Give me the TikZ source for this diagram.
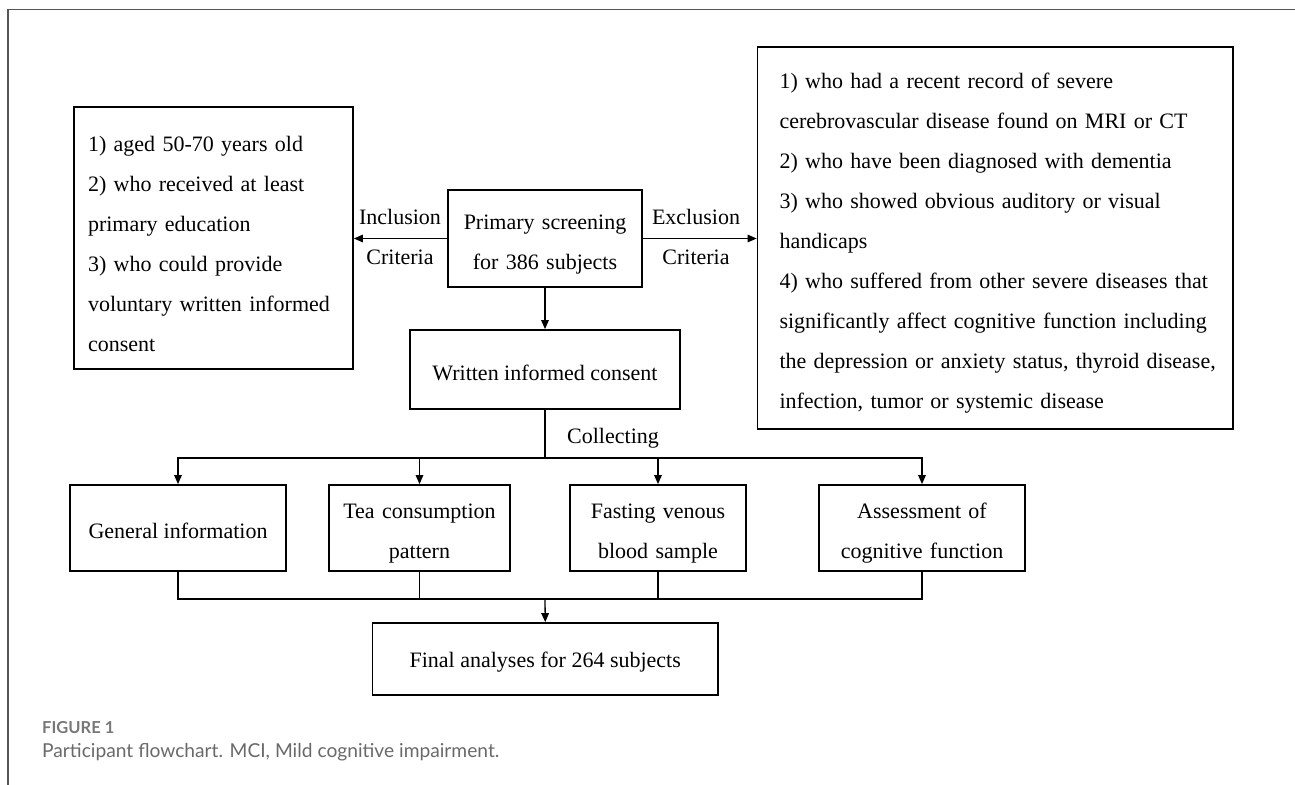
\documentclass[tikz,border=0pt]{standalone}
\usepackage{fontspec}
\setmainfont{Liberation Serif}
\newfontfamily\capfont{Lato}
\usetikzlibrary{arrows.meta}
\definecolor{framecol}{RGB}{85,85,85}
\definecolor{capgray}{RGB}{105,105,105}
\definecolor{figgray}{RGB}{120,120,120}
\newcommand{\mainsz}{\fontsize{22pt}{40pt}\selectfont}
\tikzset{
  box/.style={draw=black, line width=1.7pt, inner sep=0pt, font=\mainsz, align=center},
  lowmulti/.style={execute at begin node={\rule{0pt}{26.5pt}}},
  lowsingle/.style={execute at begin node={\rule{0pt}{21.5pt}}},
  lab/.style={inner sep=0pt, font=\mainsz, align=center},
  conn/.style={line width=1.3pt},
  arr/.style={conn, -{Triangle[length=9pt,width=7.5pt]}},
}
\begin{document}
\begin{tikzpicture}[x=1pt,y=-1pt]
\useasboundingbox (0,0) rectangle (1295,784);
\draw[framecol, line width=1.5pt] (1297,9.3) -- (8,9.3) -- (8,786);

\node[box, lowmulti, text width=251pt, inner xsep=14pt, minimum height=262pt, align=left] (incl) at (213.5,238)
 {1) aged 50-70 years old\\2) who received at least\\primary education\\3) who could provide\\voluntary written informed\\consent};

\node[box, lowmulti, text width=431.5pt, inner xsep=22pt, minimum height=382pt, align=left] (excl) at (995.25,238)
 {\mbox{1) who had a recent record of severe}\\
  \mbox{cerebrovascular disease found on MRI or CT}\\
  \mbox{2) who have been diagnosed with dementia}\\
  \mbox{3) who showed obvious auditory or visual}\\
  \mbox{handicaps}\\
  \mbox{4) who suffered from other severe diseases that}\\
  \mbox{significantly affect cognitive function including}\\
  \mbox{the depression or anxiety status, thyroid disease,}\\
  \mbox{infection, tumor or systemic disease}};

\node[box, lowmulti, text width=194pt, minimum height=97pt] (prim) at (545,238.5) {Primary screening\\for 386 subjects};
\node[box, lowsingle, minimum width=270pt, minimum height=79pt] (cons) at (545,369.5) {Written informed consent};

\node[box, lowsingle, minimum width=216pt, minimum height=86pt] (gen) at (178,528) {General information};
\node[box, lowmulti, text width=181pt, minimum height=86pt] (tea) at (419.5,528) {Tea consumption\\pattern};
\node[box, lowmulti, text width=176pt, minimum height=86pt] (fast) at (658,528) {Fasting venous\\blood sample};
\node[box, lowmulti, text width=206pt, minimum height=86pt] (assess) at (922,528) {Assessment of\\cognitive function};

\node[box, lowsingle, minimum width=345.5pt, minimum height=72pt] (final) at (545.25,659) {Final analyses for 264 subjects};

\node[lab] (inclab) at (400,237) {Inclusion\\Criteria};
\node[lab] (exclab) at (696,237) {Exclusion\\Criteria};
\node[lab, anchor=west] (collab) at (567,438) {Collecting};

\draw[arr] (prim.west) -- (prim.west -| incl.east);
\draw[arr] (prim.east) -- (prim.east -| excl.west);
\draw[arr] (prim.south) -- (cons.north);

\coordinate (split) at (545,458);
\draw[conn] (cons.south) -- (split);
\draw[arr] (split) -| (gen.north);
\draw[arr] (split) -| (tea.north);
\draw[arr] (split) -| (fast.north);
\draw[arr] (split) -| (assess.north);

\coordinate (merge) at (545,599);
\draw[conn] (gen.south) |- (merge);
\draw[conn] (tea.south) |- (merge);
\draw[conn] (fast.south) |- (merge);
\draw[conn] (assess.south) |- (merge);
\draw[arr] (merge) -- (final.north);

\node[anchor=base west, inner sep=0pt, font=\capfont\bfseries\fontsize{16.5pt}{19pt}\selectfont, text=figgray] (fig) at (42,733.5) {FIGURE 1};
\node[anchor=base west, inner sep=0pt, font=\capfont\fontsize{19.2pt}{23pt}\selectfont, text=capgray] (cap) at (42,757.5) {Participant flowchart. MCI, Mild cognitive impairment.};
\end{tikzpicture}
\end{document}
